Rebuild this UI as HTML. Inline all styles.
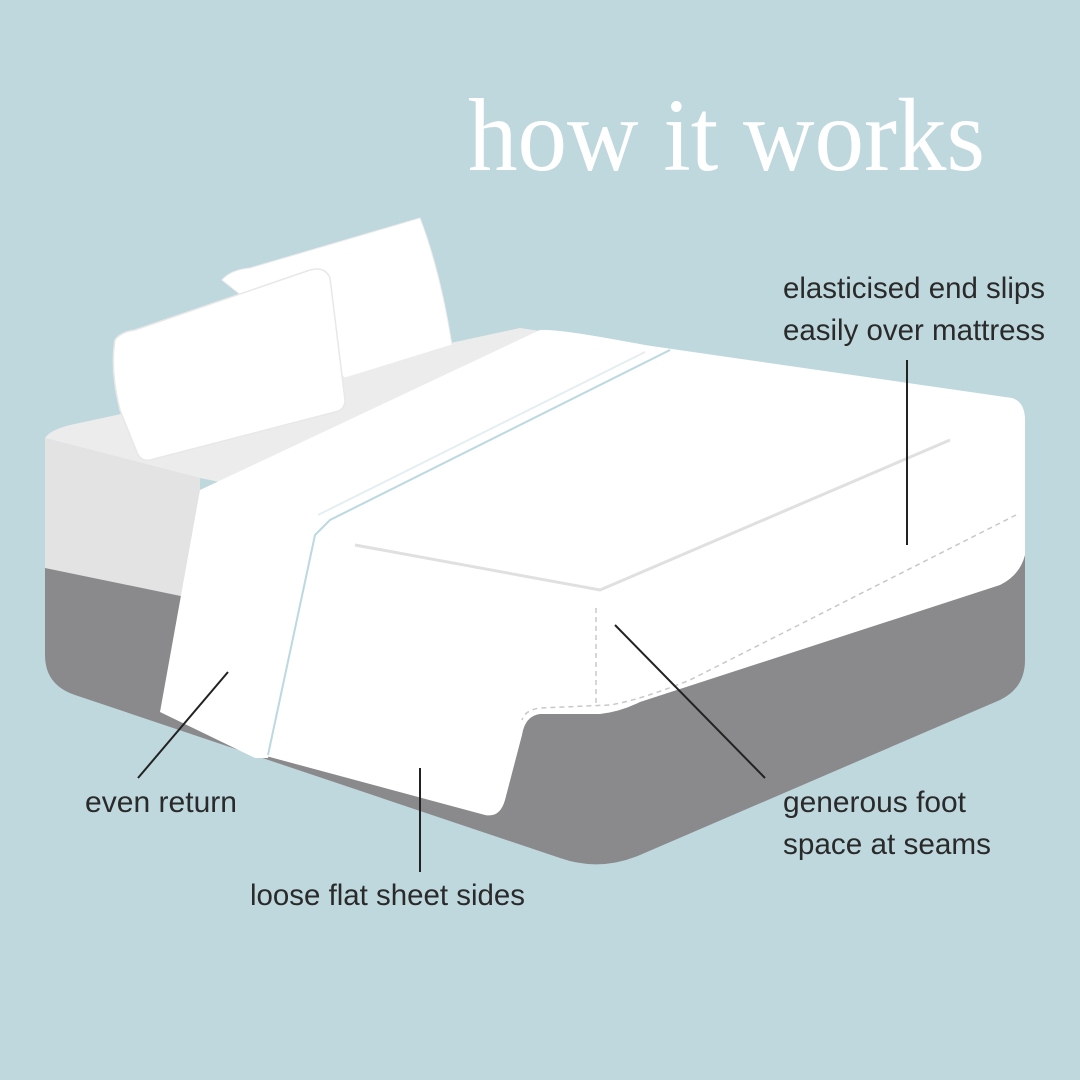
<!DOCTYPE html>
<html><head><meta charset="utf-8"><style>
html,body{margin:0;padding:0;background:#bed8de;}
svg{display:block}
</style></head><body>
<svg width="1080" height="1080" viewBox="0 0 1080 1080" xmlns="http://www.w3.org/2000/svg">
<rect width="1080" height="1080" fill="#bed8de"/>
<text x="468" y="170" font-family="Liberation Serif, serif" font-size="104" fill="#fff" textLength="517" lengthAdjust="spacingAndGlyphs">how it works</text>

<path d="M45 560 L45 655 Q45 685 75 695 L560 858 Q600 872 640 855 L1000 700 Q1025 688 1025 660 L1025 500 L45 500 Z" fill="#8a8a8c"/>
<path d="M45 438 L200 478 L200 600 L45 568 Z" fill="#e3e3e4"/>
<path d="M45 438 Q50 430 70 425 L520 328 L1010 400 L600 560 L200 478 Z" fill="#ececec"/>
<path d="M540 330 L1012 398 Q1025 402 1025 420 L1025 555 Q1020 575 1000 585 L640 702 Q620 712 600 714 L540 714 Q525 716 522 735 L505 800 Q500 818 485 815 L266 756 L315 530 Z" fill="#ffffff"/>
<path d="M355 545 L600 590 L950 440" fill="none" stroke="#e0e0e0" stroke-width="3"/>
<path d="M1016 515 L690 680 Q640 700 610 705 L540 708 Q525 710 522 720" fill="none" stroke="#c8c8c8" stroke-width="1.5" stroke-dasharray="5 4"/>
<line x1="596" y1="608" x2="596" y2="706" stroke="#c8c8c8" stroke-width="1.5" stroke-dasharray="5 4"/>
<path d="M540 330 Q560 328 670 350 L330 520 L315 532 L268 758 L255 758 L160 712 L200 490 Z" fill="#ffffff"/>
<path d="M670 350 L330 520 L315 535 L268 755" fill="none" stroke="#bcd8e0" stroke-width="2"/>
<path d="M645 352 L318 515" fill="none" stroke="#e6eef0" stroke-width="2"/>
<path d="M222 280 Q230 270 250 268 L420 218 Q440 270 452 345 L345 378 Z" fill="#ffffff" stroke="#ececec" stroke-width="1"/>
<path d="M115 340 Q120 332 135 330 L310 270 Q325 266 330 278 L345 400 Q345 410 335 412 L150 460 Q140 462 136 450 L120 410 Q110 370 115 340 Z" fill="#ffffff" stroke="#e8e8e8" stroke-width="1.5"/>

<g stroke="#222" stroke-width="2" fill="none">
<line x1="907" y1="360" x2="907" y2="545"/>
<line x1="615" y1="625" x2="765" y2="778"/>
<line x1="228" y1="672" x2="138" y2="778"/>
<line x1="420" y1="768" x2="420" y2="872"/>
</g>
<g font-family="Liberation Sans, sans-serif" font-size="30" fill="#2a2a2a">
<text x="783" y="298" textLength="262" lengthAdjust="spacingAndGlyphs">elasticised end slips</text>
<text x="783" y="340" textLength="262" lengthAdjust="spacingAndGlyphs">easily over mattress</text>
<text x="85" y="812" textLength="152" lengthAdjust="spacingAndGlyphs">even return</text>
<text x="783" y="812" textLength="183" lengthAdjust="spacingAndGlyphs">generous foot</text>
<text x="783" y="854" textLength="208" lengthAdjust="spacingAndGlyphs">space at seams</text>
<text x="250" y="905" textLength="275" lengthAdjust="spacingAndGlyphs">loose flat sheet sides</text>
</g>
</svg>
</body></html>
